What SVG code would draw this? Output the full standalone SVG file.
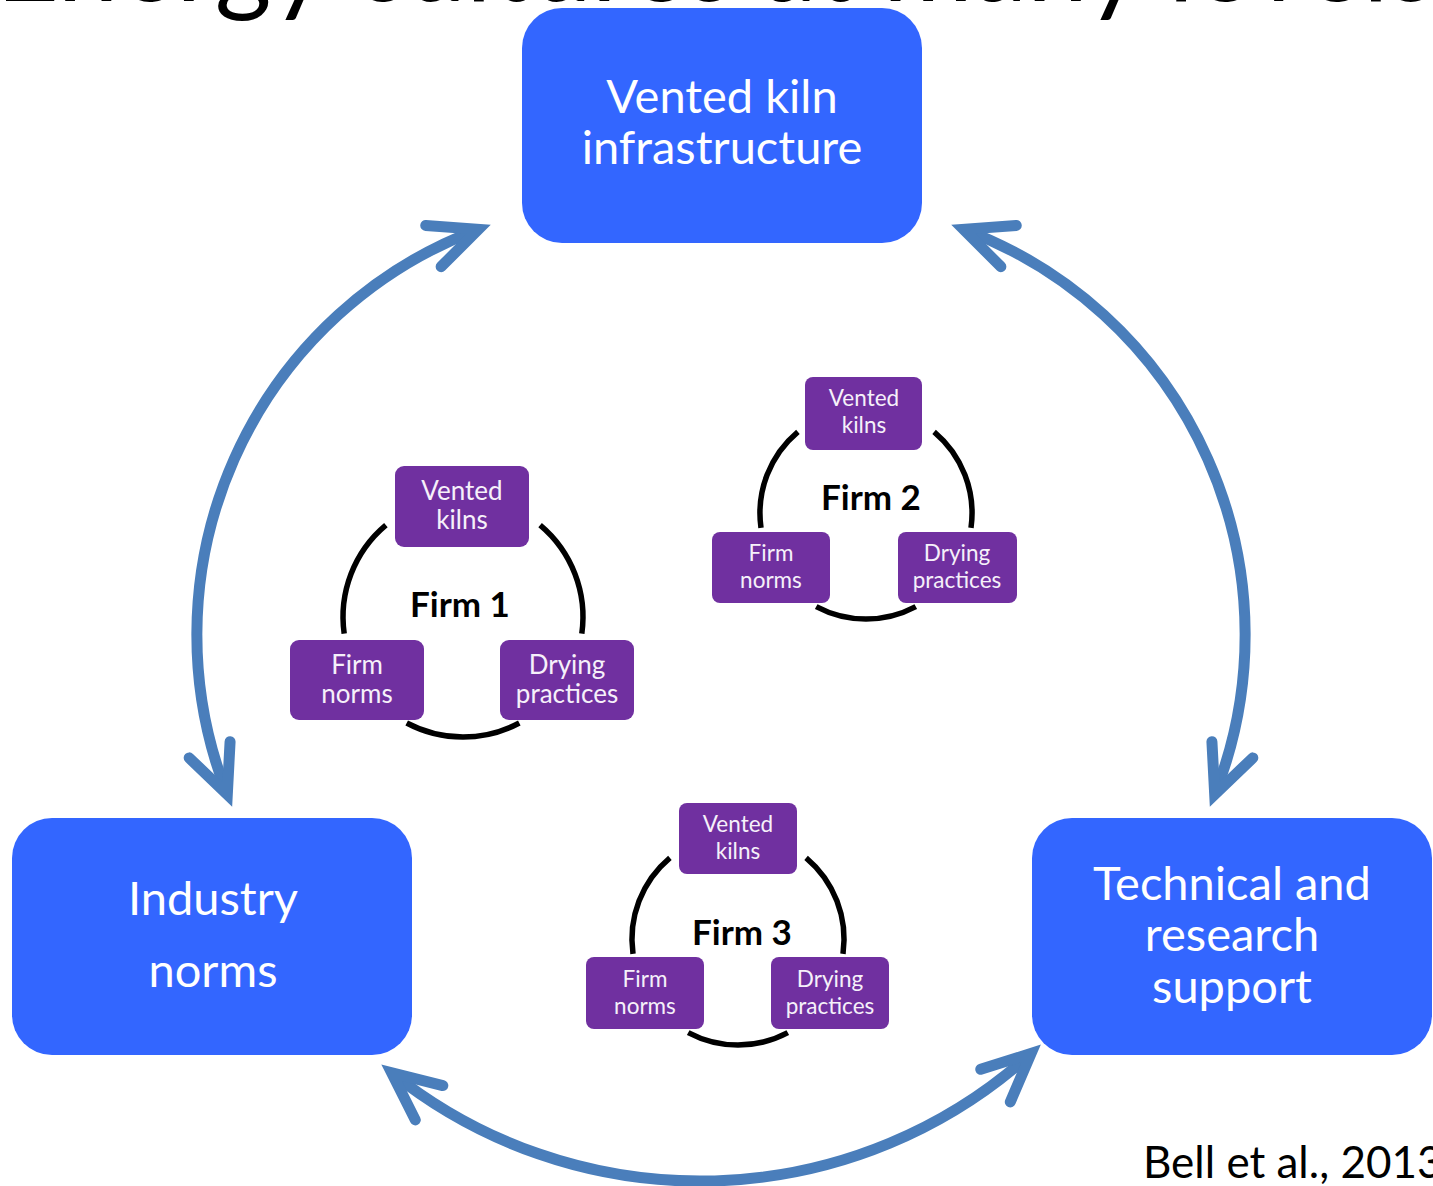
<svg xmlns="http://www.w3.org/2000/svg" width="1433" height="1186" viewBox="0 0 1433 1186">
<defs>
<style>
.big{fill:#3366FF}
.bt{font-family:Lato,"Liberation Sans",sans-serif;font-size:47px;fill:#FFFFFF;text-anchor:middle}
.pb{fill:#7030A0}
.pt1{font-family:Lato,"Liberation Sans",sans-serif;font-size:26px;fill:#F6F0FA;text-anchor:middle}
.pt2{font-family:Lato,"Liberation Sans",sans-serif;font-size:22.5px;fill:#F6F0FA;text-anchor:middle}
.fl{font-family:Lato,"Liberation Sans",sans-serif;font-size:35px;font-weight:bold;fill:#000;text-anchor:middle}
.ring{fill:none;stroke:#000;stroke-width:5.5}
.arc{fill:none;stroke:#4A7EBB;stroke-width:11;marker-start:url(#ah);marker-end:url(#ah)}
</style>
<marker id="ah" markerUnits="userSpaceOnUse" viewBox="-70 -40 100 80" markerWidth="100" markerHeight="80" refX="0" refY="0" orient="auto-start-reverse">
<path d="M-48,-22 L0,0 L-48,22" fill="none" stroke="#4A7EBB" stroke-width="11" stroke-linecap="round" stroke-linejoin="miter"/>
</marker>
</defs>
<rect width="1433" height="1186" fill="#FFFFFF"/>
<text x="-4" y="1" font-family="Lato,'Liberation Sans',sans-serif" font-size="110" textLength="1440" lengthAdjust="spacingAndGlyphs" fill="#000">Energy cultures at many levels</text>

<g id="connectors">
<path class="arc" d="M227.3,794.4 A433,433 0 0 1 478.4,229.3"/>
<path class="arc" d="M1214.7,794.4 A433,433 0 0 0 963.6,229.3"/>
<path class="arc" d="M391.6,1072.7 A493,493 0 0 0 1031.1,1053.4"/>
</g>

<g id="vented-kiln-infrastructure">
<rect class="big" x="522" y="8" width="400" height="235" rx="40"/>
<text class="bt" x="722" y="113">Vented kiln</text>
<text class="bt" x="722" y="164">infrastructure</text>
</g>
<g id="industry-norms">
<rect class="big" x="12" y="818" width="400" height="237" rx="40"/>
<text class="bt" x="213" y="915">Industry</text>
<text class="bt" x="213" y="987">norms</text>
</g>
<g id="technical-research-support">
<rect class="big" x="1032" y="818" width="400" height="237" rx="40"/>
<text class="bt" x="1232" y="900">Technical and</text>
<text class="bt" x="1232" y="951">research</text>
<text class="bt" x="1232" y="1003">support</text>
</g>

<g id="firm1">
<g id="firm1-rings">
<path class="ring" d="M385.9,525.1 A120,120 0 0 0 344.2,633.7"/>
<path class="ring" d="M540.1,525.1 A120,120 0 0 1 581.8,633.7"/>
<path class="ring" d="M406.7,723 A120,120 0 0 0 519.3,723"/>
</g>
<text class="fl" x="460" y="617">Firm 1</text>
<g id="firm1-vented-kilns">
<rect class="pb" x="395" y="466" width="134" height="81" rx="9"/>
<text class="pt1" x="462" y="500">Vented</text>
<text class="pt1" x="462" y="529">kilns</text>
</g>
<g id="firm1-firm-norms">
<rect class="pb" x="290" y="640" width="134" height="80" rx="9"/>
<text class="pt1" x="357" y="674">Firm</text>
<text class="pt1" x="357" y="703">norms</text>
</g>
<g id="firm1-drying-practices">
<rect class="pb" x="500" y="640" width="134" height="80" rx="9"/>
<text class="pt1" x="567" y="674">Drying</text>
<text class="pt1" x="567" y="703">practices</text>
</g>
</g>

<g id="firm2">
<g id="firm2-rings">
<path class="ring" d="M797.9,431.8 A106,106 0 0 0 761,527.8"/>
<path class="ring" d="M934.1,431.8 A106,106 0 0 1 971,527.8"/>
<path class="ring" d="M816.2,606.6 A106,106 0 0 0 915.8,606.6"/>
</g>
<text class="fl" x="871" y="510">Firm 2</text>
<g id="firm2-vented-kilns">
<rect class="pb" x="805" y="377" width="117" height="73" rx="8"/>
<text class="pt2" x="864" y="406">Vented</text>
<text class="pt2" x="864" y="433">kilns</text>
</g>
<g id="firm2-firm-norms">
<rect class="pb" x="712" y="532" width="118" height="71" rx="8"/>
<text class="pt2" x="771" y="561">Firm</text>
<text class="pt2" x="771" y="588">norms</text>
</g>
<g id="firm2-drying-practices">
<rect class="pb" x="898" y="532" width="119" height="71" rx="8"/>
<text class="pt2" x="957" y="561">Drying</text>
<text class="pt2" x="957" y="588">practices</text>
</g>
</g>

<g id="firm3">
<g id="firm3-rings">
<path class="ring" d="M669.9,857.8 A106,106 0 0 0 633,953.8"/>
<path class="ring" d="M806.1,857.8 A106,106 0 0 1 843,953.8"/>
<path class="ring" d="M688.2,1032.6 A106,106 0 0 0 787.8,1032.6"/>
</g>
<text class="fl" x="742" y="945">Firm 3</text>
<g id="firm3-vented-kilns">
<rect class="pb" x="679" y="803" width="118" height="71" rx="8"/>
<text class="pt2" x="738" y="832">Vented</text>
<text class="pt2" x="738" y="859">kilns</text>
</g>
<g id="firm3-firm-norms">
<rect class="pb" x="586" y="957" width="118" height="72" rx="8"/>
<text class="pt2" x="645" y="987">Firm</text>
<text class="pt2" x="645" y="1014">norms</text>
</g>
<g id="firm3-drying-practices">
<rect class="pb" x="771" y="957" width="118" height="72" rx="8"/>
<text class="pt2" x="830" y="987">Drying</text>
<text class="pt2" x="830" y="1014">practices</text>
</g>
</g>

<text x="1143" y="1178" font-family="Lato,'Liberation Sans',sans-serif" font-size="44" fill="#000">Bell et al., 2013</text>
</svg>
